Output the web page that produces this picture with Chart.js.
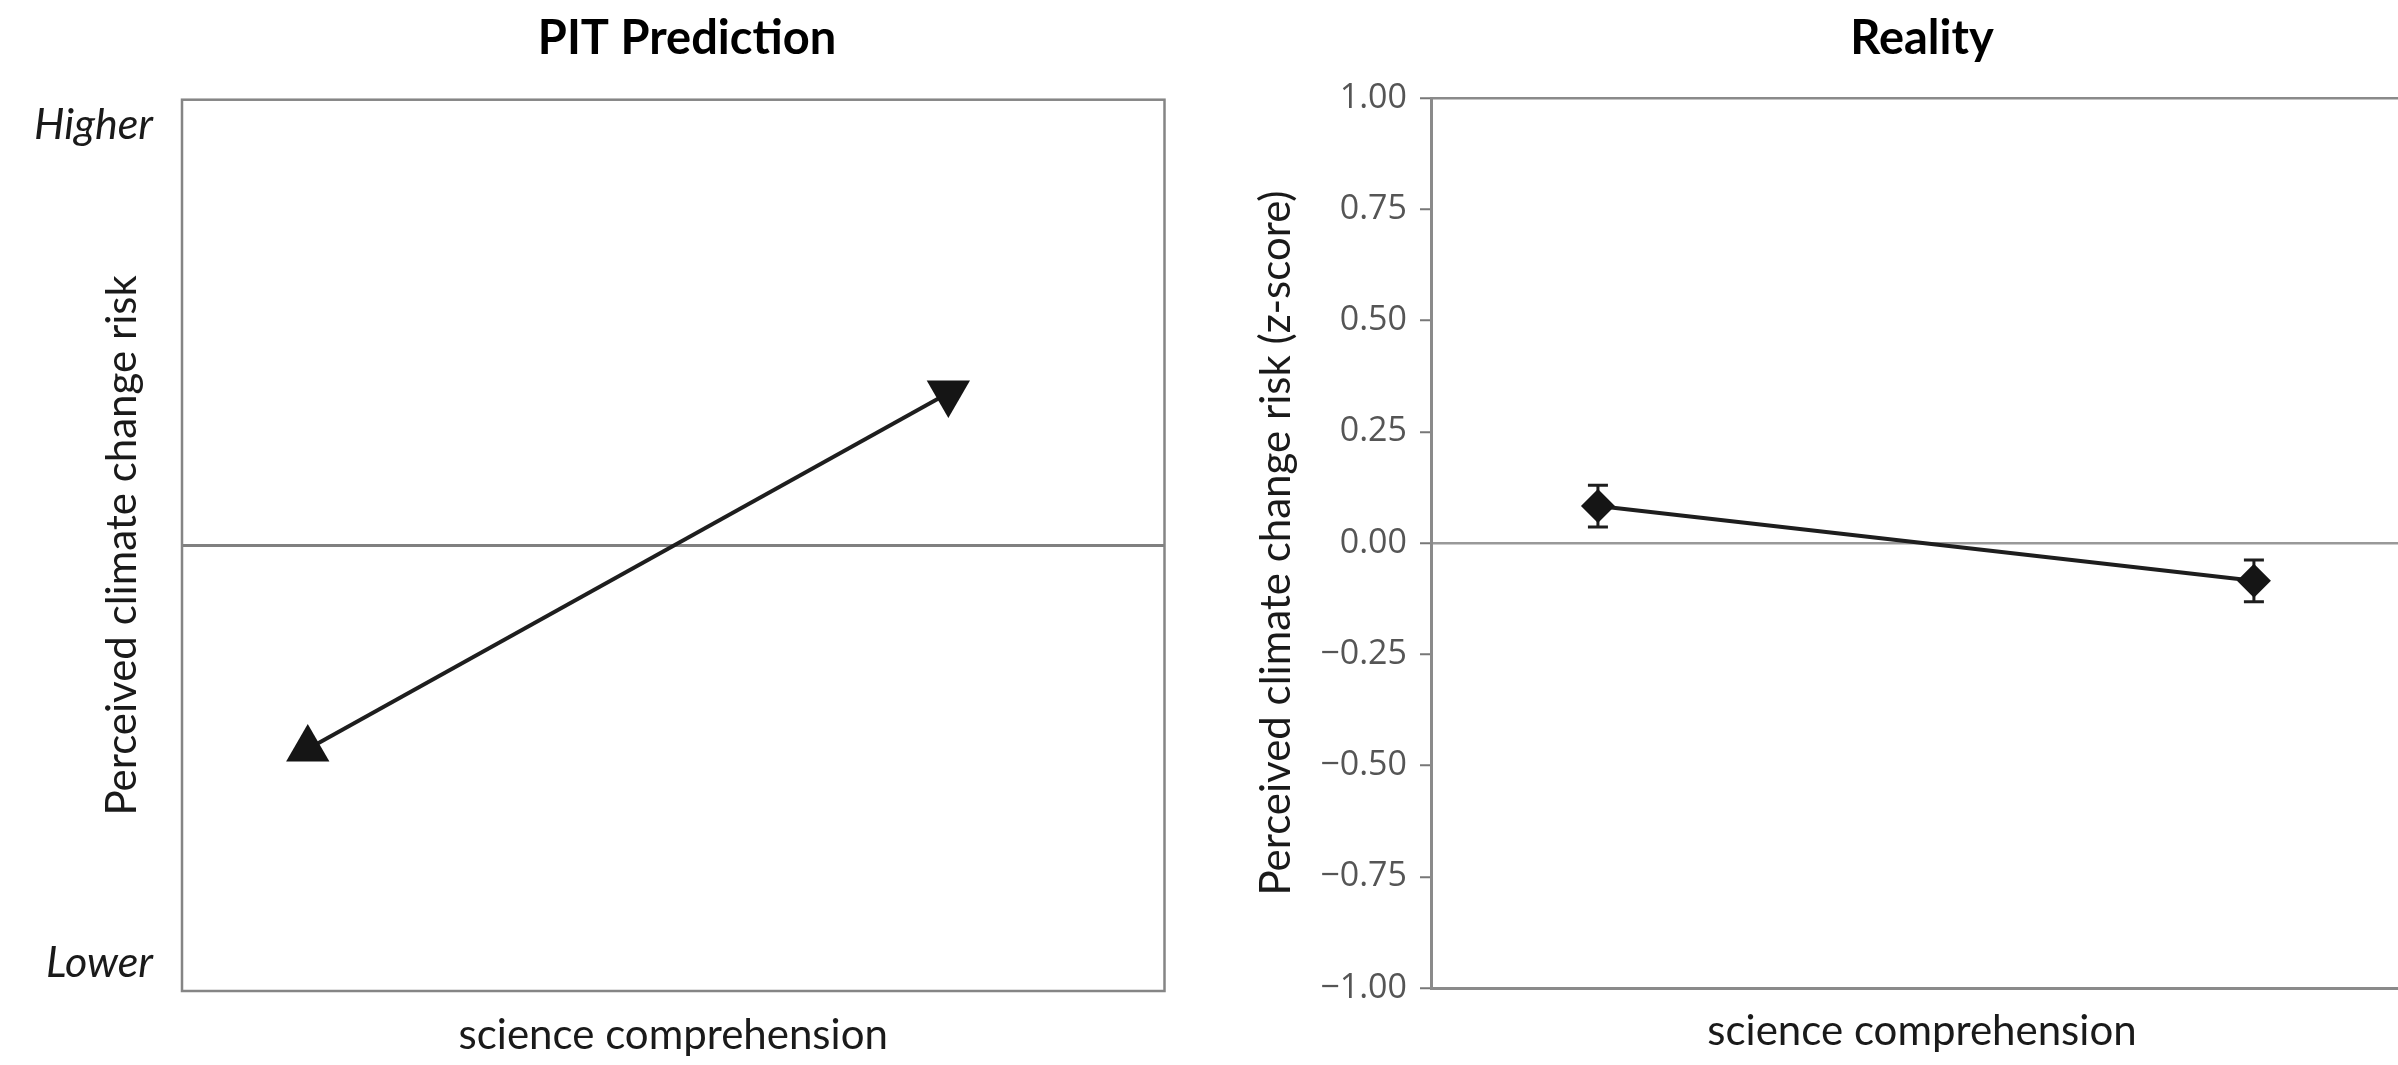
<!DOCTYPE html>
<html>
<head>
<meta charset="utf-8">
<title>PIT Prediction vs Reality</title>
<script src="https://cdn.jsdelivr.net/npm/chart.js@4.4.1/dist/chart.umd.min.js"></script>
<style>
  html, body { margin: 0; padding: 0; background: #fff; overflow: hidden; }
  body { width: 2398px; height: 1065px; position: relative; }
  canvas { position: absolute; top: 0; }
  #pit { left: 0; }
  #reality { left: 1200px; }
</style>
</head>
<body>
<canvas id="pit" width="1374" height="1065"></canvas>
<canvas id="reality" width="1300" height="1065"></canvas>
<script>
(function () {
    'use strict';

    // --- PIT Prediction (schematic, no numeric scale) ---
    var PIT_X = [0.128, 0.78];
    var PIT_Y = [-0.457, 0.342];
    var PIT_TICKS = [0.943, 0, -0.938];
    var PIT_TICK_LABELS = ['Higher', '', 'Lower'];

    // --- Reality (z-score, mean +/- error) ---
    var REAL_X = [0.17, 0.838];
    var REAL_Y = [0.083, -0.085];
    var REAL_ERR = [0.047, 0.047];
    var REAL_TICKS = [1, 0.75, 0.5, 0.25, 0, -0.25, -0.5, -0.75, -1];
    var REAL_TICK_LABELS = ['1.00', '0.75', '0.50', '0.25', '0.00', '\u22120.25', '\u22120.50', '\u22120.75', '\u22121.00'];

    var X_TITLE = 'science comprehension';
    var SANS = 'Lato, "Open Sans", sans-serif';

    function points(xs, ys) {
        return xs.map(function (x, i) { return { x: x, y: ys[i] }; });
    }

    function fixedTicks(values) {
        return function (scale) {
            scale.ticks = values.map(function (v) { return { value: v }; });
        };
    }

    // box round the plotting area (left panel)
    var framePlugin = {
        id: 'frame',
        beforeDatasetsDraw: function (chart, args, opts) {
            var a = chart.chartArea, ctx = chart.ctx;
            ctx.save();
            ctx.strokeStyle = opts.color;
            ctx.lineWidth = opts.width;
            ctx.strokeRect(a.left, a.top, a.right - a.left, a.bottom - a.top);
            ctx.restore();
        }
    };

    var errorBarPlugin = {
        id: 'errorBars',
        beforeDatasetsDraw: function (chart, args, opts) {
            var xs = chart.scales.x, ys = chart.scales.y, ctx = chart.ctx;
            ctx.save();
            ctx.strokeStyle = opts.color;
            ctx.lineWidth = opts.width;
            REAL_X.forEach(function (x, i) {
                var px = xs.getPixelForValue(x);
                var top = ys.getPixelForValue(REAL_Y[i] + REAL_ERR[i]);
                var bot = ys.getPixelForValue(REAL_Y[i] - REAL_ERR[i]);
                ctx.beginPath();
                ctx.moveTo(px, top); ctx.lineTo(px, bot);
                ctx.moveTo(px - opts.cap, top); ctx.lineTo(px + opts.cap, top);
                ctx.moveTo(px - opts.cap, bot); ctx.lineTo(px + opts.cap, bot);
                ctx.stroke();
            });
            ctx.restore();
        }
    };

    new Chart(document.getElementById('pit').getContext('2d'), {
        type: 'line',
        data: {
            datasets: [{
                data: points(PIT_X, PIT_Y),
                borderColor: '#1e1e1e',
                borderWidth: 4,
                pointStyle: 'triangle',
                pointRadius: 25,
                pointRotation: [0, 180],
                pointBackgroundColor: '#151515',
                pointBorderWidth: 0
            }]
        },
        options: {
            responsive: false,
            animation: false,
            devicePixelRatio: 1,
            layout: { padding: 0 },
            plugins: {
                legend: { display: false },
                tooltip: { enabled: false },
                title: {
                    display: true,
                    text: 'PIT Prediction',
                    color: '#000',
                    font: { family: SANS, size: 47, weight: 'bold', lineHeight: 1.2 },
                    padding: { top: 10.8, bottom: 61.5 - 28.2 - 10.8 + 10 }
                },
                frame: { color: '#858585', width: 2.5 }
            },
            scales: {
                x: {
                    type: 'linear', min: 0, max: 1,
                    ticks: { display: false },
                    grid: { display: false },
                    border: { display: false },
                    title: {
                        display: true, text: X_TITLE, color: '#1a1a1a',
                        font: { family: SANS, size: 42, lineHeight: 1.2 },
                        padding: { top: 0, bottom: 4.8 }
                    },
                    afterFit: function (s) { s.height = 74; }
                },
                y: {
                    type: 'linear', min: -1, max: 1,
                    afterBuildTicks: fixedTicks(PIT_TICKS),
                    ticks: {
                        autoSkip: false,
                        padding: 29,
                        color: '#1a1a1a',
                        font: { family: SANS, size: 43, style: 'italic', lineHeight: 1.2 },
                        callback: function (v) { return PIT_TICK_LABELS[PIT_TICKS.indexOf(v)]; }
                    },
                    grid: {
                        drawTicks: false,
                        lineWidth: 3,
                        color: function (c) { return c.tick && c.tick.value === 0 ? '#808080' : 'rgba(0,0,0,0)'; }
                    },
                    border: { display: false },
                    title: {
                        display: true, text: 'Perceived climate change risk', color: '#1a1a1a',
                        font: { family: SANS, size: 42, lineHeight: 1.2 },
                        padding: { top: 96.8, bottom: 0 }
                    },
                    afterFit: function (s) { s.width = 182; }
                },
                // empty right-hand spacer so the title is centred on the whole canvas
                spacer: {
                    type: 'linear', position: 'right', min: -1, max: 1,
                    ticks: { display: false },
                    grid: { display: false },
                    border: { display: false },
                    afterFit: function (s) { s.width = 209.5; }
                }
            }
        },
        plugins: [framePlugin]
    });

    new Chart(document.getElementById('reality').getContext('2d'), {
        type: 'line',
        data: {
            datasets: [{
                data: points(REAL_X, REAL_Y),
                borderColor: '#1e1e1e',
                borderWidth: 4,
                pointStyle: 'rectRot',
                pointRadius: 17,
                pointBackgroundColor: '#151515',
                pointBorderWidth: 0
            }]
        },
        options: {
            responsive: false,
            animation: false,
            devicePixelRatio: 1,
            layout: { padding: { left: 0, right: 87, top: 0, bottom: 0 } },
            plugins: {
                legend: { display: false },
                tooltip: { enabled: false },
                title: {
                    display: true,
                    fullSize: false,
                    text: 'Reality',
                    color: '#000',
                    font: { family: SANS, size: 47, weight: 'bold', lineHeight: 1.2 },
                    padding: { top: 11, bottom: 30.6 }
                },
                errorBars: { color: '#1e1e1e', width: 3, cap: 10 }
            },
            scales: {
                x: {
                    type: 'linear', min: 0, max: 1,
                    ticks: { display: false },
                    grid: { display: false },
                    border: { display: true, color: '#8a8a8a', width: 3 },
                    title: {
                        display: true, text: X_TITLE, color: '#1a1a1a',
                        font: { family: SANS, size: 42, lineHeight: 1.2 },
                        padding: { top: 0, bottom: 8.8 }
                    },
                    afterFit: function (s) { s.height = 77; }
                },
                y: {
                    type: 'linear', min: -1, max: 1,
                    afterBuildTicks: fixedTicks(REAL_TICKS),
                    ticks: {
                        autoSkip: false,
                        padding: 13,
                        color: '#555',
                        font: { family: '"Open Sans", sans-serif', size: 34, lineHeight: 1.2 },
                        callback: function (v) { return REAL_TICK_LABELS[REAL_TICKS.indexOf(v)]; }
                    },
                    grid: {
                        drawTicks: true,
                        tickLength: 11,
                        tickWidth: 2,
                        tickColor: '#777',
                        lineWidth: 2.5,
                        color: function (c) {
                            if (!c.tick) return 'rgba(0,0,0,0)';
                            if (c.tick.value === 0) return '#999';
                            if (c.tick.value === 1) return '#8a8a8a';
                            return 'rgba(0,0,0,0)';
                        }
                    },
                    border: { display: true, color: '#8a8a8a', width: 3 },
                    title: {
                        display: true, text: 'Perceived climate change risk (z-score)', color: '#1a1a1a',
                        font: { family: SANS, size: 42, lineHeight: 1.2 },
                        padding: { top: 50.8, bottom: 0 }
                    },
                    afterFit: function (s) { s.width = 231; }
                }
            }
        },
        plugins: [errorBarPlugin]
    });
})();
</script>
</body>
</html>
